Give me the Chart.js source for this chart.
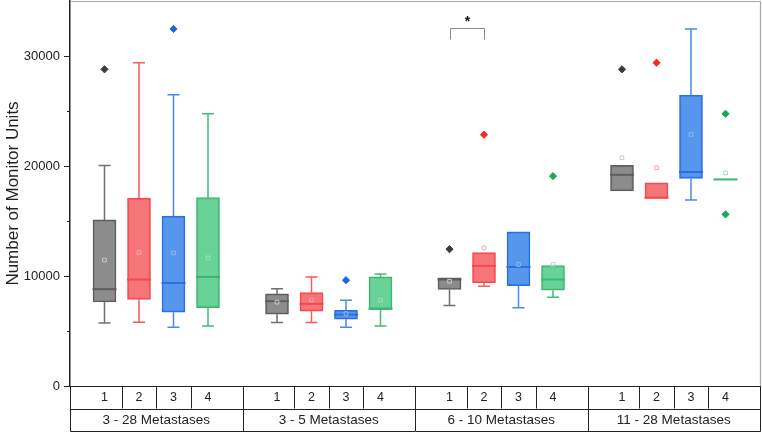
<!DOCTYPE html>
<html><head><meta charset="utf-8">
<script src="https://cdn.jsdelivr.net/npm/chart.js@4/dist/chart.umd.min.js"></script>
<style>html,body{margin:0;padding:0;background:#fff}</style>
</head><body>
<canvas id="c" width="762" height="432"></canvas>
<script>
// ---------- DATA ----------
const groupLabels = ['3 - 28 Metastases', '3 - 5 Metastases', '6 - 10 Metastases', '11 - 28 Metastases'];
const seriesLabels = ['1', '2', '3', '4'];
const yTickValues = [0, 10000, 20000, 30000];
const yMinorTickValues = [5000, 15000, 25000];

// Series 1 (grey): one value per group
const s1Low     = [5730, 5770, 7320, 17740];
const s1Q1      = [7640, 6520, 8770, 17740];
const s1Median  = [8800, 7710, 9680, 19200];
const s1Q3      = [15100, 8370, 9830, 20050];
const s1High    = [20050, 8830, 9830, 20050];
const s1Mean    = [11440, 7620, 9520, 20750];
const s1Outliers = [[28790], [], [12440], [28790]];

// Series 2 (red)
const s2Low     = [5800, 5770, 9070, 17080];
const s2Q1      = [7860, 6800, 9370, 17080];
const s2Median  = [9680, 7470, 10920, 17110];
const s2Q3      = [17080, 8500, 12140, 18470];
const s2High    = [29390, 9920, 12140, 18470];
const s2Mean    = [12140, 7830, 12560, 19840];
const s2Outliers = [[], [], [22840], [29390]];

// Series 3 (blue)
const s3Low     = [5340, 5340, 7110, 16900];
const s3Q1      = [6710, 6070, 9130, 18870];
const s3Median  = [9370, 6490, 10830, 19450];
const s3Q3      = [15440, 6890, 14010, 26450];
const s3High    = [26480, 7800, 14010, 32460];
const s3Mean    = [12100, 6590, 11050, 22870];
const s3Outliers = [[32460], [9620], [], []];

// Series 4 (green)
const s4Low     = [5460, 5460, 8070, 18780];
const s4Q1      = [7130, 6950, 8710, 18780];
const s4Median  = [9920, 7040, 9680, 18780];
const s4Q3      = [17140, 9920, 10950, 18780];
const s4High    = [24750, 10190, 10950, 18780];
const s4Mean    = [11650, 7800, 11070, 19380];
const s4Outliers = [[], [], [19080], [24750, 15600]];

// significance bracket: group 3 (index 2), series 1 vs 2
const sigGroup = 2, sigSeriesA = 0, sigSeriesB = 1, sigLevel = 32500, sigDrop = 1000, sigText = '*';

// ---------- STYLE ----------
const FONT = "'Liberation Sans', Arial, sans-serif";
const fillColors    = ['rgba(128,128,128,0.9)', 'rgba(245,105,108,0.92)', 'rgba(72,142,236,0.92)', 'rgba(92,206,142,0.92)'];
const borderColors  = ['#5e5e5e', '#f14a50', '#2a6fdc', '#3db673'];
const whiskerColors = ['#707070', '#f45a5f', '#4a8ae8', '#45bb7a'];
const outlierColors = ['#3c3c3c', '#f32a2a', '#1a66e0', '#1ba85a'];
const meanColors    = ['#c8c8c8', '#f6a6a8', '#8fb6ee', '#a6dcbc'];

const series = [
  {low: s1Low, q1: s1Q1, med: s1Median, q3: s1Q3, high: s1High, mean: s1Mean, out: s1Outliers},
  {low: s2Low, q1: s2Q1, med: s2Median, q3: s2Q3, high: s2High, mean: s2Mean, out: s2Outliers},
  {low: s3Low, q1: s3Q1, med: s3Median, q3: s3Q3, high: s3High, mean: s3Mean, out: s3Outliers},
  {low: s4Low, q1: s4Q1, med: s4Median, q3: s4Q3, high: s4High, mean: s4Mean, out: s4Outliers},
];
const pos = (g, s) => g * 5 + s + 1;

const datasets = [];
series.forEach((S, s) => {
  datasets.push({
    type: 'scatter', label: 'mean ' + seriesLabels[s], order: 0,
    data: groupLabels.map((_, g) => ({x: pos(g, s), y: S.mean[g]})),
    pointStyle: 'rect', radius: 2.6, borderWidth: 1,
    backgroundColor: 'rgba(0,0,0,0)', borderColor: meanColors[s]
  });
  const outs = [];
  groupLabels.forEach((_, g) => S.out[g].forEach(v => outs.push({x: pos(g, s), y: v})));
  datasets.push({
    type: 'scatter', label: 'outliers ' + seriesLabels[s], order: 1,
    data: outs, pointStyle: 'rectRot', radius: 3.6, borderWidth: 1,
    backgroundColor: outlierColors[s], borderColor: outlierColors[s]
  });
});
series.forEach((S, s) => {
  datasets.push({
    type: 'bar', label: seriesLabels[s], order: 2, seriesIndex: s,
    data: groupLabels.map((_, g) => ({x: pos(g, s), y: [S.q1[g], S.q3[g]]})),
    backgroundColor: fillColors[s], borderColor: borderColors[s], borderWidth: 1.5,
    borderSkipped: false, barThickness: 23, grouped: false
  });
});

const boxPlugin = {
  id: 'boxparts',
  beforeDatasetsDraw(chart) {
    const {ctx, scales: {x, y}} = chart;
    ctx.save();
    ctx.lineWidth = 1.5;
    series.forEach((S, s) => {
      ctx.strokeStyle = whiskerColors[s];
      groupLabels.forEach((_, g) => {
        const px = x.getPixelForValue(pos(g, s));
        const cap = 6;
        ctx.beginPath();
        if (S.low[g] < S.q1[g]) {
          ctx.moveTo(px, y.getPixelForValue(S.q1[g])); ctx.lineTo(px, y.getPixelForValue(S.low[g]));
          ctx.moveTo(px - cap, y.getPixelForValue(S.low[g])); ctx.lineTo(px + cap, y.getPixelForValue(S.low[g]));
        }
        if (S.high[g] > S.q3[g]) {
          ctx.moveTo(px, y.getPixelForValue(S.q3[g])); ctx.lineTo(px, y.getPixelForValue(S.high[g]));
          ctx.moveTo(px - cap, y.getPixelForValue(S.high[g])); ctx.lineTo(px + cap, y.getPixelForValue(S.high[g]));
        }
        ctx.stroke();
      });
    });
    ctx.restore();
  },
  afterDatasetDraw(chart, args) {
    const ds = chart.data.datasets[args.index];
    if (ds.type !== 'bar') return;
    const s = ds.seriesIndex, S = series[s];
    const {ctx, scales: {x, y}} = chart;
    ctx.save();
    ctx.strokeStyle = borderColors[s];
    ctx.lineWidth = 2;
    groupLabels.forEach((_, g) => {
      const px = x.getPixelForValue(pos(g, s));
      const py = y.getPixelForValue(S.med[g]);
      ctx.beginPath();
      ctx.moveTo(px - 12, py); ctx.lineTo(px + 12, py);
      ctx.stroke();
    });
    ctx.restore();
  },
  afterDraw(chart) {
    const {ctx, chartArea: ca, scales: {x, y}} = chart;
    ctx.save();
    // frame top/right
    ctx.strokeStyle = '#a8a8a8'; ctx.lineWidth = 1.2;
    ctx.beginPath();
    ctx.moveTo(ca.left, ca.top + 0.5); ctx.lineTo(ca.right + 0.5, ca.top + 0.5); ctx.lineTo(ca.right + 0.5, ca.bottom);
    ctx.stroke();
    // minor ticks
    ctx.strokeStyle = '#222'; ctx.lineWidth = 1;
    yMinorTickValues.forEach(v => {
      const py = Math.round(y.getPixelForValue(v)) + 0.5;
      ctx.beginPath(); ctx.moveTo(ca.left - 3, py); ctx.lineTo(ca.left, py); ctx.stroke();
    });
    // table
    const top = ca.bottom, mid = ca.bottom + 22.5, bot = 431;
    const L = Math.round(x.getPixelForValue(0)) + 0.5, R = Math.round(x.getPixelForValue(20)) + 0.5;
    ctx.strokeStyle = '#222'; ctx.lineWidth = 1;
    ctx.beginPath();
    ctx.moveTo(L, top); ctx.lineTo(L, bot + 0.5); ctx.lineTo(R, bot + 0.5); ctx.lineTo(R, top);
    ctx.moveTo(L, Math.round(mid) + 0.5); ctx.lineTo(R, Math.round(mid) + 0.5);
    ctx.moveTo(L, Math.round(top) + 0.5); ctx.lineTo(R, Math.round(top) + 0.5);
    groupLabels.forEach((_, g) => {
      if (g > 0) { const gx = Math.round(x.getPixelForValue(g * 5)) + 0.5; ctx.moveTo(gx, top); ctx.lineTo(gx, bot); }
      [1.5, 2.5, 3.5].forEach(o => {
        const sx = Math.round(x.getPixelForValue(g * 5 + o)) + 0.5;
        ctx.moveTo(sx, top); ctx.lineTo(sx, mid);
      });
    });
    ctx.stroke();
    ctx.fillStyle = '#222'; ctx.textAlign = 'center'; ctx.textBaseline = 'middle';
    ctx.font = '12.5px ' + FONT;
    groupLabels.forEach((_, g) => seriesLabels.forEach((lab, s) => {
      ctx.fillText(lab, x.getPixelForValue(pos(g, s)), (top + mid) / 2 + 0.5);
    }));
    ctx.font = '13.5px ' + FONT;
    groupLabels.forEach((lab, g) => ctx.fillText(lab, x.getPixelForValue(g * 5 + 2.5), (mid + bot) / 2 + 0.5));
    // significance bracket
    const ax = Math.round(x.getPixelForValue(pos(sigGroup, sigSeriesA))) + 0.5;
    const bx = Math.round(x.getPixelForValue(pos(sigGroup, sigSeriesB))) + 0.5;
    const ty = Math.round(y.getPixelForValue(sigLevel)) + 0.5;
    const dy = y.getPixelForValue(sigLevel - sigDrop);
    ctx.strokeStyle = '#8a8a8a'; ctx.lineWidth = 1;
    ctx.beginPath(); ctx.moveTo(ax, dy); ctx.lineTo(ax, ty); ctx.lineTo(bx, ty); ctx.lineTo(bx, dy); ctx.stroke();
    ctx.fillStyle = '#111'; ctx.font = 'bold 14px ' + FONT;
    ctx.fillText(sigText, (ax + bx) / 2, ty - 6);
    ctx.restore();
  }
};

new Chart(document.getElementById('c'), {
  type: 'bar',
  data: {datasets},
  plugins: [boxPlugin],
  options: {
    responsive: false, animation: false,
    layout: {autoPadding: false, padding: {left: 0, right: 2, top: 1, bottom: 0}},
    plugins: {legend: {display: false}, tooltip: {enabled: false}},
    scales: {
      x: {
        type: 'linear', min: 0, max: 20, offset: false,
        grid: {display: false, offset: false}, border: {display: false},
        ticks: {display: false},
        afterFit: s => { s.height = 46; s.paddingLeft = 0; s.paddingRight = 0; }
      },
      y: {
        min: 0, max: 35000,
        afterBuildTicks: s => { s.ticks = yTickValues.map(v => ({value: v})); },
        ticks: {font: {size: 13, family: FONT}, color: '#222', padding: 4, callback: v => String(v)},
        grid: {drawOnChartArea: false, tickLength: 6, color: '#222', tickWidth: 1},
        border: {color: '#222', width: 1.5},
        title: {display: true, text: 'Number of Monitor Units', font: {size: 17, family: FONT}, color: '#222', padding: {top: 3, bottom: 3}},
        afterFit: s => { s.width = 70; s.paddingTop = 0; s.paddingBottom = 0; }
      }
    }
  }
});
</script>
</body></html>
